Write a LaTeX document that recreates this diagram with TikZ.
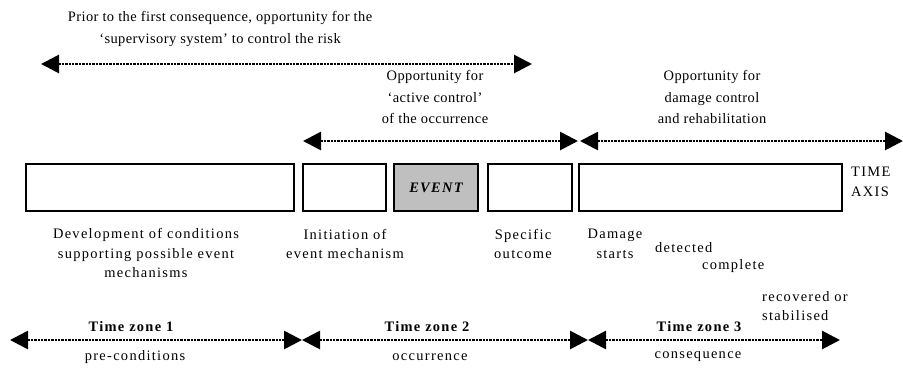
\documentclass[tikz,border=0pt]{standalone}
\usepackage{fontspec}
\setmainfont{Liberation Serif}
\newfontfamily\trackedfont{Liberation Serif}[LetterSpace=9]
\newfontfamily\looserfont{Liberation Serif}[LetterSpace=3]
\usetikzlibrary{arrows.meta}

\begin{document}
\begin{tikzpicture}[x=1bp,y=-1bp,
  head/.tip={Triangle[length=18bp,width=18bp]},
  span/.style={line width=2.8bp, dash pattern=on 2.4bp off 1bp, head-head},
  stage/.style={draw, line width=2.6bp, inner sep=0pt, minimum height=47bp},
  lbl/.style={font=\trackedfont\fontsize{14.5}{19.5}\selectfont, align=center, inner sep=0pt},
  upper/.style={font=\looserfont\fontsize{14.5}{22}\selectfont, align=center, inner sep=0pt},
  zone/.style={font=\trackedfont\bfseries\fontsize{14.5}{19}\selectfont, inner sep=0pt},
]
\useasboundingbox (0,0) rectangle (903,369);

% ---- opportunity spans above the time axis ----
\node[upper] (prior) at (220,29) {Prior to the first consequence, opportunity for the\\‘supervisory system’ to control the risk};
\coordinate (prL) at (41,64);
\coordinate (prR) at (532,64);
\draw[span] (prL) -- (prR);

\node[upper] (active) at (435,97) {Opportunity for\\‘active control’\\of the occurrence};
\node[upper] (damage) at (712,97) {Opportunity for\\damage control\\and rehabilitation};
\coordinate (acL) at (303,141);
\coordinate (acR) at (578,141);
\coordinate (dmL) at (580,141);
\coordinate (dmR) at (903,141);
\draw[span] (acL) -- (acR);
\draw[span] (dmL) -- (dmR);

% ---- the time axis: stages ----
\node[stage, minimum width=268bp] (dev) at (160,187.5) {};
\node[stage, minimum width=83bp] (init) at (344.5,187.5) {};
\node[stage, minimum width=84bp, fill=black!25] (event) at (436,187.5)
  {\trackedfont\bfseries\itshape\fontsize{14.5}{19}\selectfont EVENT};
\node[stage, minimum width=84bp] (outc) at (530,187.5) {};
\node[stage, minimum width=263bp] (cons) at (710.5,187.5) {};
\node[lbl, align=left, anchor=west] (axis) at (851,182) {TIME\\AXIS};

% ---- stage descriptions ----
\node[lbl] (devtxt) at (146,253) {Development of conditions\\supporting possible event\\mechanisms};
\node[lbl] (inittxt) at (345,244) {Initiation of\\event mechanism};
\node[lbl] (outctxt) at (523,244) {Specific\\outcome};
\node[lbl] (dmgtxt) at (615,244) {Damage\\starts};
\node[lbl, anchor=west] (det) at (655,248) {detected};
\node[lbl, anchor=west] (comp) at (702,266) {complete};
\node[lbl, align=left, anchor=west] (recov) at (762,306) {recovered or\\stabilised};

% ---- time zones ----
\coordinate (z1L) at (10,340);
\coordinate (z12) at (302,340);
\coordinate (z23) at (588,340);
\coordinate (z3R) at (840,340);
\draw[span] (z1L) -- (z12);
\draw[span] (z12) -- (z23);
\draw[span] (z23) -- (z3R);

\node[zone] (tz1) at (131,327) {Time zone 1};
\node[lbl] (pre) at (135,357) {pre-conditions};
\node[zone] (tz2) at (427,327) {Time zone 2};
\node[lbl] (occ) at (430,357) {occurrence};
\node[zone] (tz3) at (699,327) {Time zone 3};
\node[lbl] (conseq) at (698,357) {consequence};
\end{tikzpicture}
\end{document}
